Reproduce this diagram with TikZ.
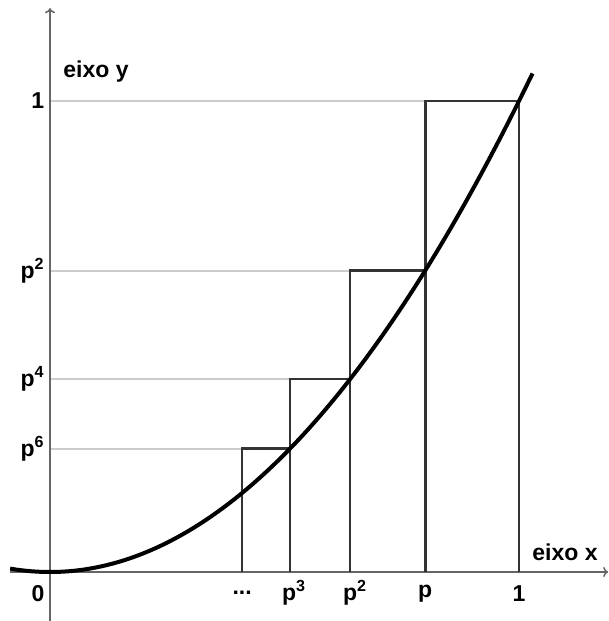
\documentclass[tikz,border=0pt]{standalone}
\usepackage{fontspec}
\setmainfont{Liberation Sans}
\usetikzlibrary{arrows.meta}
\begin{document}
\begin{tikzpicture}[x=469pt,y=471pt,
  lbl/.style={font=\fontsize{23}{25}\selectfont\bfseries, inner sep=0pt},
  guide/.style={draw=black!20, line width=2pt},
  stair/.style={draw=black!80, line width=2.6pt},
  axis/.style={draw=black!60, line width=1.5pt},
  curve/.style={draw=black, line width=4pt}]
\useasboundingbox (-0.10661,-0.10403) rectangle (1.18977,1.21444);
\def\pa{0.8}\def\pb{0.64}\def\pc{0.512}\def\pd{0.4096}\def\pf{0.262}
% named points
\coordinate (O) at (0,0);
\coordinate (ybot) at (0,-0.10403);
\coordinate (ytop) at (0,1.197);
\coordinate (xl) at (-0.085,0);
\coordinate (xr) at (1.19,0);
% guide lines
\coordinate (g1) at (0,1); \coordinate (g1e) at (\pa,1);
\coordinate (g2) at (0,\pb); \coordinate (g2e) at (\pb,\pb);
\coordinate (g4) at (0,\pd); \coordinate (g4e) at (\pc,\pd);
\coordinate (g6) at (0,\pf); \coordinate (g6e) at (\pd,\pf);
\draw[guide] (g1) -- (g1e);
\draw[guide] (g2) -- (g2e);
\draw[guide] (g4) -- (g4e);
\draw[guide] (g6) -- (g6e);
% axes
\draw[axis,-{To[length=5pt,width=10pt]}] (ybot) -- (ytop);
\draw[axis,-{To[length=5pt,width=10pt]}] (xl) -- (xr);
% staircase
\coordinate (s1) at (1,0); \coordinate (s1t) at (1,1);
\coordinate (sp) at (\pa,0); \coordinate (spt) at (\pa,1);
\coordinate (sp2) at (\pb,0); \coordinate (sp2t) at (\pb,\pb);
\coordinate (sp3) at (\pc,0); \coordinate (sp3t) at (\pc,\pd);
\coordinate (sp4) at (\pd,0); \coordinate (sp4t) at (\pd,\pf);
\draw[stair] (s1) -- (s1t) -- (spt) -- (sp);
\draw[stair] (\pa,\pb) -- (sp2t) -- (sp2);
\draw[stair] (\pb,\pd) -- (sp3t) -- (sp3);
\draw[stair] (\pc,\pf) -- (sp4t) -- (sp4);
% parabola
\draw[curve] plot[domain=-0.085:1.03,samples=80,smooth] (\x,{\x*\x});
% labels
\node[lbl] (ey) at (0.098,1.062) {eixo y};
\node[lbl] (ex) at (1.098,0.042) {eixo x};
\node[lbl,anchor=east] (l1) at (-0.012,1) {1};
\node[lbl,anchor=east] (l2) at (-0.012,\pb) {p\textsuperscript{2}};
\node[lbl,anchor=east] (l4) at (-0.012,\pd) {p\textsuperscript{4}};
\node[lbl,anchor=east] (l6) at (-0.012,\pf) {p\textsuperscript{6}};
\node[lbl] (x0) at (-0.0256,-0.045) {0};
\node[lbl] (xd) at (\pd,-0.045) {...};
\node[lbl] (x3) at (0.52,-0.045) {p\textsuperscript{3}};
\node[lbl] (x2) at (0.65,-0.045) {p\textsuperscript{2}};
\node[lbl] (x1) at (\pa,-0.045) {p};
\node[lbl] (xone) at (1,-0.045) {1};
\end{tikzpicture}
\end{document}
